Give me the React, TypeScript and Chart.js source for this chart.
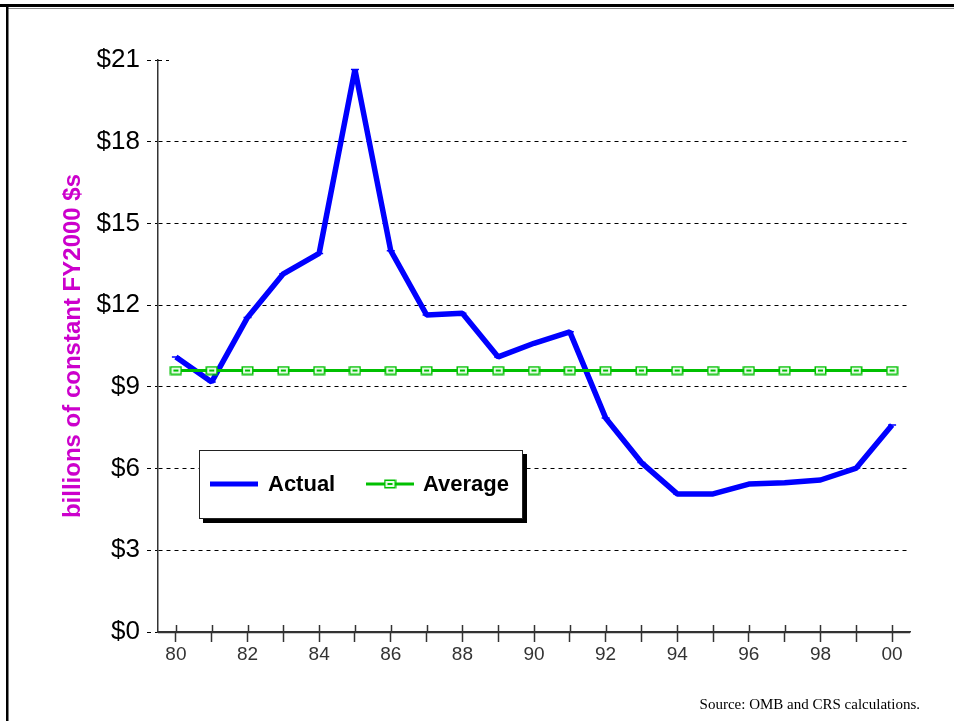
import React, { useEffect, useRef } from 'react';
import { Chart, registerables } from 'chart.js';

Chart.register(...registerables);

const yearLabels = ['80', '81', '82', '83', '84', '85', '86', '87', '88', '89', '90', '91', '92', '93', '94', '95', '96', '97', '98', '99', '00'];
const actualValues = [10.1, 9.18, 11.55, 13.15, 13.9, 20.65, 14.0, 11.64, 11.7, 10.1, 10.6, 11.02, 7.86, 6.22, 5.07, 5.07, 5.43, 5.48, 5.58, 6.02, 7.6];
const averageValues = [9.6, 9.6, 9.6, 9.6, 9.6, 9.6, 9.6, 9.6, 9.6, 9.6, 9.6, 9.6, 9.6, 9.6, 9.6, 9.6, 9.6, 9.6, 9.6, 9.6, 9.6];
const yTickValues = [0, 3, 6, 9, 12, 15, 18, 21];
const yAxisTitle = 'billions of constant FY2000 $s';
const legendLabels = ['Actual', 'Average'];
const sourceNote = 'Source: OMB and CRS calculations.';

const BLUE = '#0000ff';
const GREEN = '#00c000';
const MAGENTA = '#cc00cc';

function makeMarker(): HTMLCanvasElement {
  const c = document.createElement('canvas');
  c.width = 13;
  c.height = 10;
  const g = c.getContext('2d')!;
  g.fillStyle = '#e6fae6';
  g.fillRect(1, 1, 11, 8);
  g.strokeStyle = GREEN;
  g.lineWidth = 1.5;
  g.strokeRect(1.25, 1.25, 10.5, 7.5);
  g.fillStyle = GREEN;
  g.fillRect(4, 4, 5, 2);
  return c;
}

export default function App() {
  const ref = useRef<HTMLCanvasElement>(null);

  useEffect(() => {
    const marker = makeMarker();
    const decor = {
      id: 'decor',
      beforeDraw(chart: any) {
        const ctx = chart.ctx;
        ctx.save();
        ctx.fillStyle = '#ffffff';
        ctx.fillRect(0, 0, chart.width, chart.height);
        ctx.fillStyle = '#000000';
        ctx.fillRect(0, 4, chart.width, 3);
        ctx.fillStyle = '#8a8a8a';
        ctx.fillRect(8, 8, chart.width - 8, 1);
        ctx.fillStyle = '#000000';
        ctx.fillRect(6, 4, 2.5, chart.height - 4);
        ctx.restore();
      },
      afterDraw(chart: any) {
        const ctx = chart.ctx;
        const xs = chart.scales.x;
        const ys = chart.scales.y;
        const area = chart.chartArea;
        ctx.save();
        // solid x axis line (over any dashes)
        const y0 = Math.round(ys.getPixelForValue(0)) + 0.5;
        ctx.strokeStyle = '#333333';
        ctx.lineWidth = 1.5;
        ctx.beginPath();
        ctx.moveTo(area.left, y0);
        ctx.lineTo(area.right, y0);
        ctx.stroke();
        // upper half of x tick marks
        for (let i = 0; i < yearLabels.length; i++) {
          const px = Math.round(xs.getPixelForTick(i)) + 0.5;
          ctx.beginPath();
          ctx.moveTo(px, area.bottom - 7);
          ctx.lineTo(px, area.bottom);
          ctx.stroke();
        }
        // short dashes at top tick
        const topY = Math.round(ys.getPixelForValue(yTickValues[yTickValues.length - 1])) + 0.5;
        ctx.strokeStyle = '#000000';
        ctx.lineWidth = 1;
        ctx.setLineDash([4, 4]);
        ctx.beginPath();
        ctx.moveTo(area.left, topY);
        ctx.lineTo(area.left + 11, topY);
        ctx.stroke();
        ctx.setLineDash([]);

        // legend
        const lx = 199, ly = 450, lw = 324, lh = 69;
        ctx.fillStyle = '#000000';
        ctx.fillRect(lx + 4, ly + 4, lw, lh);
        ctx.fillStyle = '#ffffff';
        ctx.fillRect(lx, ly, lw, lh);
        ctx.strokeStyle = '#222222';
        ctx.lineWidth = 1;
        ctx.strokeRect(lx + 0.5, ly + 0.5, lw - 1, lh - 1);
        const cy = 484;
        ctx.strokeStyle = BLUE;
        ctx.lineWidth = 5;
        ctx.beginPath();
        ctx.moveTo(210, cy);
        ctx.lineTo(258, cy);
        ctx.stroke();
        ctx.strokeStyle = GREEN;
        ctx.lineWidth = 3;
        ctx.beginPath();
        ctx.moveTo(366, cy);
        ctx.lineTo(414, cy);
        ctx.stroke();
        ctx.drawImage(marker, 390 - marker.width / 2, cy - marker.height / 2);
        ctx.fillStyle = '#000000';
        ctx.font = 'bold 22px "Liberation Sans", Arial, sans-serif';
        ctx.textAlign = 'left';
        ctx.textBaseline = 'middle';
        ctx.fillText(legendLabels[0], 268, cy + 1);
        ctx.fillText(legendLabels[1], 423, cy + 1);

        // source note
        ctx.font = '15px "Liberation Serif", "Times New Roman", serif';
        ctx.textAlign = 'right';
        ctx.textBaseline = 'alphabetic';
        ctx.fillStyle = '#000000';
        ctx.fillText(sourceNote, 920, 709);
        ctx.restore();
      },
    };

    const chart = new Chart(ref.current!, {
      type: 'line',
      data: {
        labels: yearLabels,
        datasets: [
          {
            label: legendLabels[1],
            data: averageValues,
            borderColor: GREEN,
            borderWidth: 3,
            pointStyle: marker as any,
            pointRadius: 5,
            tension: 0,
            order: 0,
          },
          {
            label: legendLabels[0],
            data: actualValues,
            borderColor: BLUE,
            borderWidth: 5.5,
            borderJoinStyle: 'bevel',
            pointStyle: 'line',
            pointRadius: 4,
            pointBorderWidth: 1.5,
            pointBorderColor: BLUE,
            tension: 0,
            order: 1,
          },
        ],
      },
      options: {
        animation: false,
        responsive: false,
        devicePixelRatio: 1,
        layout: { padding: { top: 60, right: 44, left: 0, bottom: 0 } },
        plugins: { legend: { display: false }, tooltip: { enabled: false } },
        scales: {
          x: {
            type: 'category',
            offset: true,
            afterFit: (s: any) => {
              s.height = 89;
            },
            grid: {
              display: true,
              offset: false,
              drawOnChartArea: false,
              drawTicks: true,
              tickLength: 10,
              tickColor: '#333333',
              tickWidth: 1.5,
            },
            border: { display: true, color: '#333333', width: 1.5 },
            ticks: {
              autoSkip: false,
              maxRotation: 0,
              padding: 1,
              color: '#333333',
              font: { family: '"Liberation Sans", Arial, sans-serif', size: 19 },
              callback: (_v: any, i: number) => (i % 2 === 0 ? yearLabels[i] : ''),
            },
          },
          y: {
            min: 0,
            max: 21,
            afterFit: (s: any) => {
              s.width = 158;
            },
            afterBuildTicks: (s: any) => {
              s.ticks = yTickValues.map((v) => ({ value: v }));
            },
            grid: {
              color: (c: any) => (c.tick && (c.tick.value === 21 || c.tick.value === 0) ? 'rgba(0,0,0,0)' : '#000000'),
              lineWidth: 1,
              drawTicks: true,
              tickLength: 11,
              tickColor: '#000000',
              tickWidth: 1,
              tickBorderDash: [4, 4],
            },
            border: { display: true, color: '#333333', width: 1.5, dash: [4, 4] },
            ticks: {
              padding: 7,
              color: '#000000',
              font: { family: '"Liberation Sans", Arial, sans-serif', size: 26 },
              callback: (v: any) => '$' + v,
            },
            title: {
              display: true,
              text: yAxisTitle,
              color: MAGENTA,
              font: { family: '"Liberation Sans", Arial, sans-serif', size: 24, weight: 'bold' },
              padding: { top: 59, bottom: 0 },
            },
          },
        },
      },
      plugins: [decor],
    });
    return () => chart.destroy();
  }, []);

  return (
    <div style={{ position: 'fixed', left: 0, top: 0, width: 954, height: 721, background: '#ffffff' }}>
      <canvas ref={ref} width={954} height={721} style={{ display: 'block', width: 954, height: 721 }} />
    </div>
  );
}
